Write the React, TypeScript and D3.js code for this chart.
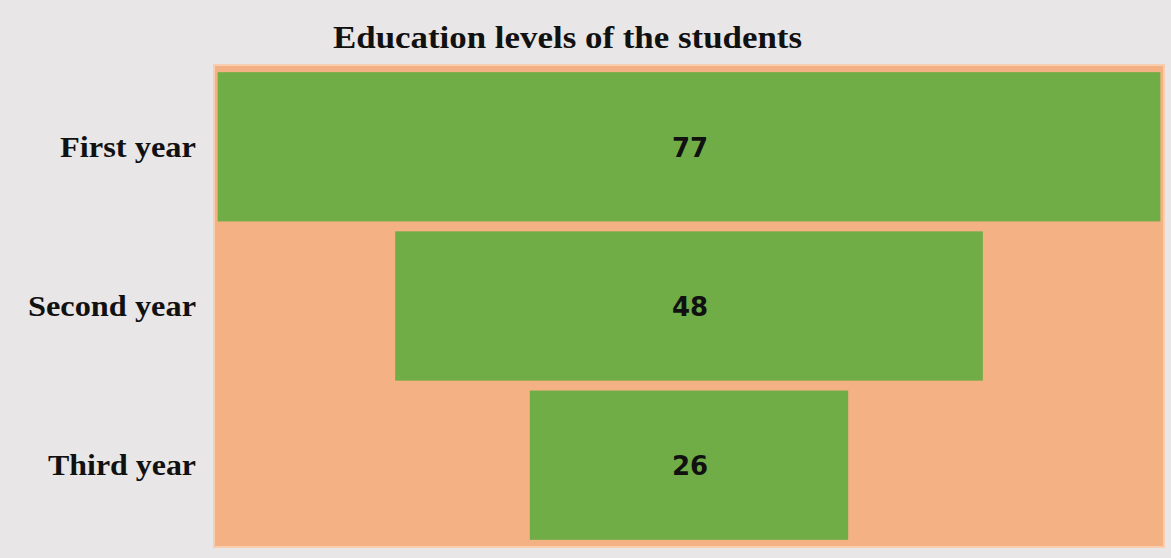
import React from "react";
import * as d3 from "d3";

const categories = ["First year", "Second year", "Third year"];
const values = [77, 48, 26];
const chartTitle = "Education levels of the students";

const W = 1171;
const H = 558;
const plot = { left: 214, right: 1164, top: 65, bottom: 547 };
// rendered widths of the label texts in the reference (layout only)
const labelSpan: Record<string, number> = { "First year": 136, "Second year": 168, "Third year": 148 };
const titleSpan = 469;

export default function App() {
  const maxV = d3.max(values) as number;
  const x = d3.scaleLinear().domain([-0.3, maxV + 0.3]).range([plot.left, plot.right]);
  const y = d3
    .scaleBand<string>()
    .domain(categories)
    .range([plot.top, plot.bottom])
    .paddingInner(0.0625)
    .paddingOuter(0.045);

  return (
    <svg
      width={W}
      height={H}
      style={{ position: "absolute", left: 0, top: 0, display: "block" }}
    >
      <rect x={0} y={0} width={W} height={H} fill="#e8e6e6" />
      <rect
        x={plot.left}
        y={plot.top}
        width={plot.right - plot.left}
        height={plot.bottom - plot.top}
        fill="#f4b183"
        stroke="#f8cdb0"
        strokeWidth={2}
      />
      <text
        x={333}
        y={48}
        textLength={titleSpan}
        lengthAdjust="spacingAndGlyphs"
        fontFamily="'Liberation Serif', 'Times New Roman', serif"
        fontWeight="bold"
        fontSize={32}
        fill="#111"
      >
        {chartTitle}
      </text>
      {categories.map((c, i) => {
        const v = values[i];
        const x0 = x((maxV - v) / 2);
        const x1 = x((maxV + v) / 2);
        const by = y(c) as number;
        const bh = y.bandwidth();
        const cy = by + bh / 2;
        return (
          <g key={c}>
            <rect x={x0} y={by} width={x1 - x0} height={bh} fill="#70ad47" />
            <text
              x={(x0 + x1) / 2 + 1}
              y={cy + 10}
              textAnchor="middle"
              fontFamily="'DejaVu Sans', sans-serif"
              fontWeight="bold"
              fontSize={26}
              fill="#111"
            >
              {v}
            </text>
            <text
              x={196 - labelSpan[c]}
              y={cy + 10}
              textLength={labelSpan[c]}
              lengthAdjust="spacingAndGlyphs"
              fontFamily="'Liberation Serif', 'Times New Roman', serif"
              fontWeight="bold"
              fontSize={29}
              fill="#111"
            >
              {c}
            </text>
          </g>
        );
      })}
    </svg>
  );
}
